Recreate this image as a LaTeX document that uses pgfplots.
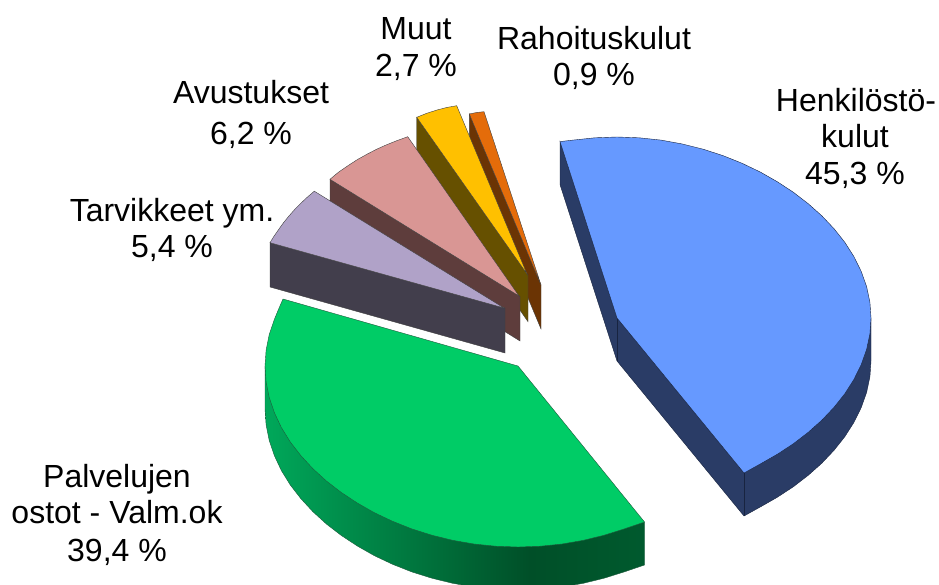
\documentclass[border=0pt]{standalone}
\usepackage{fontspec}
\setmainfont{Liberation Sans}
\usepackage{pgfplots}
\pgfplotsset{compat=1.18}
\definecolor{bluetop}{HTML}{6699FF}
\definecolor{blueside}{HTML}{2A3C66}
\definecolor{greentop}{HTML}{00CC66}
\definecolor{greenA}{HTML}{00A85A}
\definecolor{greenB}{HTML}{004F28}
\definecolor{greenC}{HTML}{005A2E}
\definecolor{pinktop}{HTML}{D99694}
\definecolor{pinkside}{HTML}{5E3D3C}
\definecolor{purptop}{HTML}{B0A2C8}
\definecolor{purpside}{HTML}{423E4C}
\definecolor{yeltop}{HTML}{FFC000}
\definecolor{yelside}{HTML}{665000}
\definecolor{ortop}{HTML}{E46C0A}
\definecolor{orside}{HTML}{6B3404}
\definecolor{edge}{HTML}{404040}
\definecolor{bedge}{HTML}{182440}
\definecolor{gedge}{HTML}{1E5A3C}
\newcommand{\lab}[3]{\node[anchor=base,inner sep=0pt,font=\fontsize{32}{36}\selectfont] at (axis cs:#1,#2) {#3};}
\begin{document}
\begin{tikzpicture}
\useasboundingbox (0,0) rectangle (939pt,585pt);
\begin{axis}[at={(0,0)},anchor=south west,scale only axis,width=939pt,height=585pt,
  xmin=0,xmax=939,ymin=0,ymax=585,y dir=reverse,hide axis]
% orange 0,9 %
\addplot[draw=edge,line width=0.4pt,fill=orside] coordinates {(469.3,114)(469.3,158)(541,329)(541,285)} -- cycle;
\addplot[draw=edge,line width=0.4pt,fill=ortop] coordinates {(469.3,114)(476.5,112.5)(484,111.7)(541,285)} -- cycle;
% yellow 2,7 %
\addplot[draw=edge,line width=0.4pt,fill=yelside] coordinates {(416.7,117.3)(416.7,161.7)(528,321.7)(528,275)} -- cycle;
\addplot[draw=edge,line width=0.4pt,fill=yeltop] coordinates {(416.7,117.3)(426.5,113.4)(437,110)(446.7,107.5)(456.7,105.7)(527,274)} -- cycle;
% pink 6,2 %
\addplot[draw=edge,line width=0.4pt,fill=pinkside] coordinates {(330,179.3)(330,223)(520,341)(520,296.5)} -- cycle;
\addplot[draw=edge,line width=0.4pt,fill=pinktop] coordinates {(330,179.3)(338.5,172.2)(347.8,165.8)(357.5,159.5)(367.8,153.8)(376.5,149.3)(385.8,145.1)(396.5,140.8)(407.7,136.7)(519,296)} -- cycle;
% purple 5,4 %
\addplot[draw=edge,line width=0.4pt,fill=purpside] coordinates {(270,242.7)(270,287)(505,353)(505,308)} -- cycle;
\addplot[draw=edge,line width=0.4pt,fill=purptop] coordinates {(270,242.7)(274,236.2)(278.3,230)(283.3,223)(288.7,216.3)(294.5,209.7)(300.7,203.4)(307.3,197.2)(314.3,191.2)(504,308)} -- cycle;
% green 39,4 %
\addplot[draw=none,left color=greenA,right color=greenB] coordinates {(265,366)(265,409)(266.1,424.8)(269.2,440.4)(274.4,455.7)(281.4,470.6)(290.3,485)(300.9,498.7)(312.9,511.7)(326.4,524)(341.2,535.4)(357.3,546)(374.4,555.7)(392.6,564.3)(411.8,571.9)(431.9,578.2)(452.7,583.3)(474.1,587)(495.9,589.2)(518,590)(530,589.7)(530,546)} -- cycle;
\addplot[draw=none,left color=greenB,right color=greenC] coordinates {(530,546)(530,589.7)(540.1,589.2)(561.9,587)(583.3,583.3)(604.1,578.2)(624.2,571.9)(644.5,565)(644.5,522)} -- cycle;
\addplot[draw=gedge,line width=0.4pt] coordinates {(265,366)(265,409)(266.1,424.8)(269.2,440.4)(274.4,455.7)(281.4,470.6)(290.3,485)(300.9,498.7)(312.9,511.7)(326.4,524)(341.2,535.4)(357.3,546)(374.4,555.7)(392.6,564.3)(411.8,571.9)(431.9,578.2)(452.7,583.3)(474.1,587)(495.9,589.2)(518,590)(540.1,589.2)(561.9,587)(583.3,583.3)(604.1,578.2)(624.2,571.9)(644.5,565)(644.5,522)};
\addplot[draw=gedge,line width=0.4pt,fill=greentop] coordinates {(283,299)(518,366)(644.5,522)(624.2,528.9)(604.1,535.2)(583.3,540.3)(561.9,544)(540.1,546.2)(518,547)(495.9,546.2)(474.1,544)(452.7,540.3)(431.9,535.2)(411.8,528.9)(392.6,521.3)(374.4,512.7)(357.3,503)(341.2,492.4)(326.4,481)(312.9,468.7)(300.9,455.7)(290.3,442)(281.4,427.6)(274.4,412.7)(269.2,397.4)(266.1,381.8)(265,366)(266.1,350.2)(269.2,334.6)(274.4,319.3)(279.5,307)} -- cycle;
% blue 45,3 %
\addplot[draw=bedge,line width=0.4pt,fill=blueside] coordinates {(560,141.6)(560,184.6)(617,361)(744,516)(760.4,506.9)(777.4,497.2)(793.4,486.7)(808.2,475.3)(821.8,463.2)(834,450.3)(844.8,436.7)(853.9,422.4)(861.2,407.6)(866.6,392.4)(869.9,376.8)(871,361)(871,318)(744,473)(617,318)} -- cycle;
\addplot[draw=bedge,line width=0.5pt] coordinates {(617,318)(617,361)};
\addplot[draw=bedge,line width=0.5pt] coordinates {(744,473)(744,516)};
\addplot[draw=bedge,line width=0.4pt,fill=bluetop] coordinates {(560,141.6)(573,140.1)(594.9,137.8)(617,137)(639.1,137.8)(661,140.1)(682.4,144)(703.2,149.2)(723.2,155.7)(742.3,163.4)(760.4,172.1)(777.4,181.8)(793.4,192.3)(808.2,203.7)(821.8,215.8)(834,228.7)(844.8,242.3)(853.9,256.6)(861.2,271.4)(866.6,286.6)(869.9,302.2)(871,318)(869.9,333.8)(866.6,349.4)(861.2,364.6)(853.9,379.4)(844.8,393.7)(834,407.3)(821.8,420.2)(808.2,432.3)(793.4,443.7)(777.4,454.2)(760.4,463.9)(744,473)(617,318)} -- cycle;
\lab{416}{40}{Muut}
\lab{416}{77}{2,7 \%}
\lab{594}{50}{Rahoituskulut}
\lab{594}{86}{0,9 \%}
\lab{856}{112}{Henkilöstö-}
\lab{855}{148}{kulut}
\lab{855}{185}{45,3 \%}
\lab{251}{104}{Avustukset}
\lab{251}{145}{6,2 \%}
\lab{172}{222}{Tarvikkeet ym.}
\lab{172}{258}{5,4 \%}
\lab{117}{487}{Palvelujen}
\lab{117}{523}{ostot - Valm.ok}
\lab{117}{561}{39,4 \%}
\end{axis}
\end{tikzpicture}
\end{document}
